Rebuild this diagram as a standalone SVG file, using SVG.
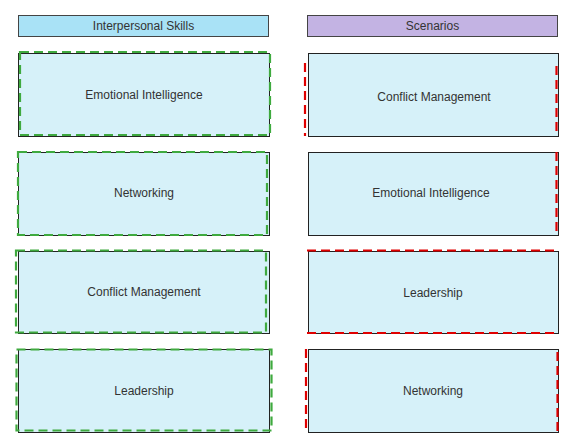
<svg xmlns="http://www.w3.org/2000/svg" width="577" height="444" viewBox="0 0 577 444">
<style>
.hdrL{fill:#a9e2f6;stroke:#444;stroke-width:1}
.hdrR{fill:#c3b3e3;stroke:#444;stroke-width:1}
.box{fill:#d6f1f9;stroke:#222;stroke-width:1}
.t{font-family:"Liberation Sans",Arial,sans-serif;font-size:12px;fill:#333;text-anchor:middle;dominant-baseline:central}
.g{fill:none;stroke:#3faa3f;stroke-width:2.2;stroke-dasharray:9 5}
.r{fill:none;stroke:#e00000;stroke-width:2.2;stroke-dasharray:9 5}
</style>
<rect width="577" height="444" fill="#ffffff"/>
<g id="header-left"><rect class="hdrL" x="18.5" y="15.5" width="250" height="21"/><text class="t" x="143.5" y="26">Interpersonal Skills</text></g>
<g id="header-right"><rect class="hdrR" x="307.5" y="15.5" width="250" height="21"/><text class="t" x="432.5" y="26">Scenarios</text></g>

<g id="left-emotional"><rect class="box" x="18.5" y="53.5" width="251" height="83"/><text class="t" x="144" y="95">Emotional Intelligence</text></g>
<g id="left-networking"><rect class="box" x="18.5" y="152.5" width="251" height="83"/><text class="t" x="144" y="193">Networking</text></g>
<g id="left-conflict"><rect class="box" x="18.5" y="251.5" width="251" height="82"/><text class="t" x="144" y="292">Conflict Management</text></g>
<g id="left-leadership"><rect class="box" x="18.5" y="349.5" width="251" height="83"/><text class="t" x="144" y="391">Leadership</text></g>

<g id="right-conflict"><rect class="box" x="308.5" y="53.5" width="250" height="83"/><text class="t" x="434" y="97">Conflict Management</text></g>
<g id="right-emotional"><rect class="box" x="308.5" y="152.5" width="250" height="83"/><text class="t" x="431" y="193">Emotional Intelligence</text></g>
<g id="right-leadership"><rect class="box" x="308.5" y="251.5" width="250" height="82"/><text class="t" x="433" y="293">Leadership</text></g>
<g id="right-networking"><rect class="box" x="308.5" y="349.5" width="250" height="83"/><text class="t" x="433" y="391">Networking</text></g>

<g id="highlights">
<rect class="g" x="20" y="52" width="250" height="83"/>
<rect class="g" x="18" y="152" width="249" height="83"/>
<rect class="g" x="16" y="250.5" width="250" height="82"/>
<rect class="g" x="16.5" y="349.5" width="255" height="81"/>
<line class="r" x1="305" y1="63" x2="305" y2="136"/>
<line class="r" x1="556.5" y1="66" x2="556.5" y2="136"/>
<line class="r" x1="556.5" y1="152" x2="556.5" y2="235"/>
<line class="r" x1="307" y1="250.5" x2="558" y2="250.5"/>
<line class="r" x1="307" y1="333" x2="558" y2="333"/>
<line class="r" x1="306" y1="349" x2="306" y2="432"/>
<line class="r" x1="557.5" y1="352" x2="557.5" y2="432"/>
</g>
</svg>
